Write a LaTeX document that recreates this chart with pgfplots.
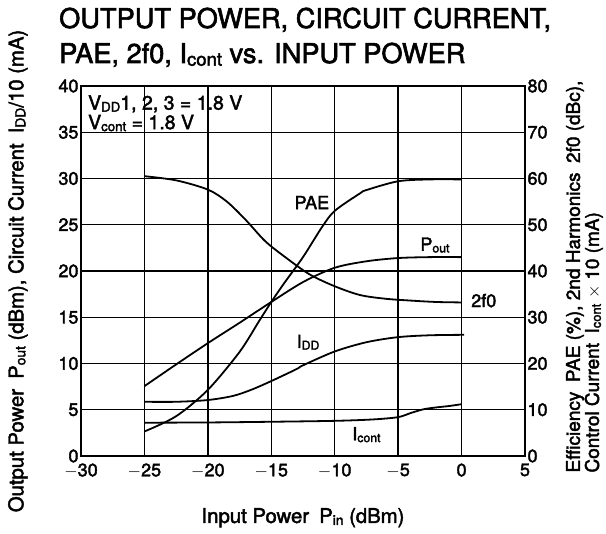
\documentclass[border=0pt]{standalone}
\usepackage{pgfplots}
\pgfplotsset{compat=1.18}
\usepackage{graphicx}
\usepackage{fontspec}
\setmainfont{TeX Gyre Heros}[FakeBold=2.2,BoldFont={TeX Gyre Heros}]
\newcommand\sub[1]{\raisebox{-0.1em}{\scalebox{0.68}{#1}}}
\newcommand\fs[1]{\fontsize{#1pt}{#1pt}\selectfont}
\pgfplotsset{
  mystyle/.style={
    at={(81pt,78pt)}, anchor=south west, scale only axis, width=444pt, height=370pt,
    xmin=-30, xmax=5,
    tick style={draw=none},
    axis line style={line width=2.5pt, black},
    /pgf/number format/assume math mode=true,
    ticklabel style={font=\fs{18}},
    clip=false,
  },
  curve/.style={black, line width=1.8pt, smooth, mark=none},
}
\begin{document}
\begin{tikzpicture}
\useasboundingbox (0,0) rectangle (606pt,534pt);
\node[anchor=base west,font=\fs{27.2},inner sep=0pt] at (59pt,506pt) {OUTPUT POWER, CIRCUIT CURRENT,};
\node[anchor=base west,font=\fs{27.2},inner sep=0pt] at (59pt,471pt) {PAE, 2f0, I\sub{cont} vs. INPUT POWER};
\begin{axis}[mystyle,
  ymin=0, ymax=40,
  xtick={-30,-25,...,5}, ytick={0,5,...,40},
  xticklabels={$-$30,$-$25,$-$20,$-$15,$-$10,$-$5,0,5},
  xtick pos=bottom, ytick pos=left,
  xticklabel pos=bottom, yticklabel pos=left,
  grid=major, grid style={black, line width=1.3pt},
  xticklabel style={yshift=-4pt},
  yticklabel style={xshift=1pt},
  xlabel={Input Power\enspace P\sub{in} (dBm)},
  xlabel style={font=\fs{20.3}, at={(axis description cs:0.5,-0.181)}, anchor=base},
  ylabel={Output Power\enspace P\sub{out} (dBm), Circuit Current\enspace I\sub{DD}/10 (mA)},
  ylabel style={font=\fs{20.3}, at={(axis description cs:-0.142,0.5)}, anchor=center},
]
% Pout (dBm)
\addplot[curve] coordinates {(-25,7.55) (-22.5,9.9) (-20,12.2) (-17.5,14.4) (-15,16.65) (-12.5,18.8) (-10,20.35) (-7.5,21.05) (-5,21.4) (-2.5,21.5) (0,21.5)};
% IDD/10 (mA)
\addplot[curve] coordinates {(-25,5.86) (-22.5,5.86) (-20,6.05) (-18,6.5) (-16.5,7.2) (-15,8.1) (-13,9.4) (-12.5,9.8) (-10,11.3) (-7.5,12.3) (-5,12.85) (-2.5,13.05) (0.2,13.1)};
\node[font=\fs{18}] at (axis cs:-2.1,22.8) {P\sub{out}};
\node[font=\fs{18}] at (axis cs:-12.1,12.3) {I\sub{DD}};
\node[font=\fs{18}] at (axis cs:-11.8,27.4) {PAE};
\node[font=\fs{18}] at (axis cs:1.75,16.8) {2f0};
\node[font=\fs{18}] at (axis cs:-7.5,2.3) {I\sub{cont}};
\node[anchor=north west, align=left, font=\fs{19.5}, inner sep=0pt] at (axis cs:-29.45,39.0) {V\sub{DD}1, 2, 3 = 1.8 V\\ V\sub{cont} = 1.8 V};
\end{axis}
\begin{axis}[mystyle,
  ymin=0, ymax=80,
  ytick={0,10,...,80},
  xtick=\empty,
  ytick pos=right, yticklabel pos=right,
  yticklabel style={xshift=-1pt},
  ylabel={Efficiency\enspace PAE (\%), 2nd Harmonics\enspace 2f0 (dBc),\\Control Current\enspace I\sub{cont} $\times$ 10 (mA)},
  ylabel style={font=\fs{19}, align=left, at={(axis description cs:1.134,0.485)}, anchor=center, rotate=0},
]
% PAE (%)
\addplot[curve] coordinates {(-25,5.3) (-22.5,8.6) (-20,14.3) (-17.5,22.5) (-16,29) (-15,33.3) (-14,37.3) (-12.5,43) (-11,49.5) (-10,53) (-8,56.8) (-7.5,57.5) (-5,59.4) (-2.5,59.8) (0,59.8)};
% 2f0 (dBc)
\addplot[curve] coordinates {(-25,60.5) (-22.5,59.6) (-20,57.6) (-18.5,55) (-17,51) (-15.5,46.5) (-14,43.2) (-12,39.3) (-10,36.7) (-8,34.8) (-6,34) (-4,33.6) (-2,33.3) (0,33.2)};
% Icont x10 (mA)
\addplot[curve] coordinates {(-25,7.2) (-20,7.25) (-15,7.4) (-10,7.6) (-7,7.9) (-5,8.4) (-4,9.3) (-3,10.1) (-2,10.5) (-1,10.8) (0,11.2)};
\end{axis}
\end{tikzpicture}
\end{document}
